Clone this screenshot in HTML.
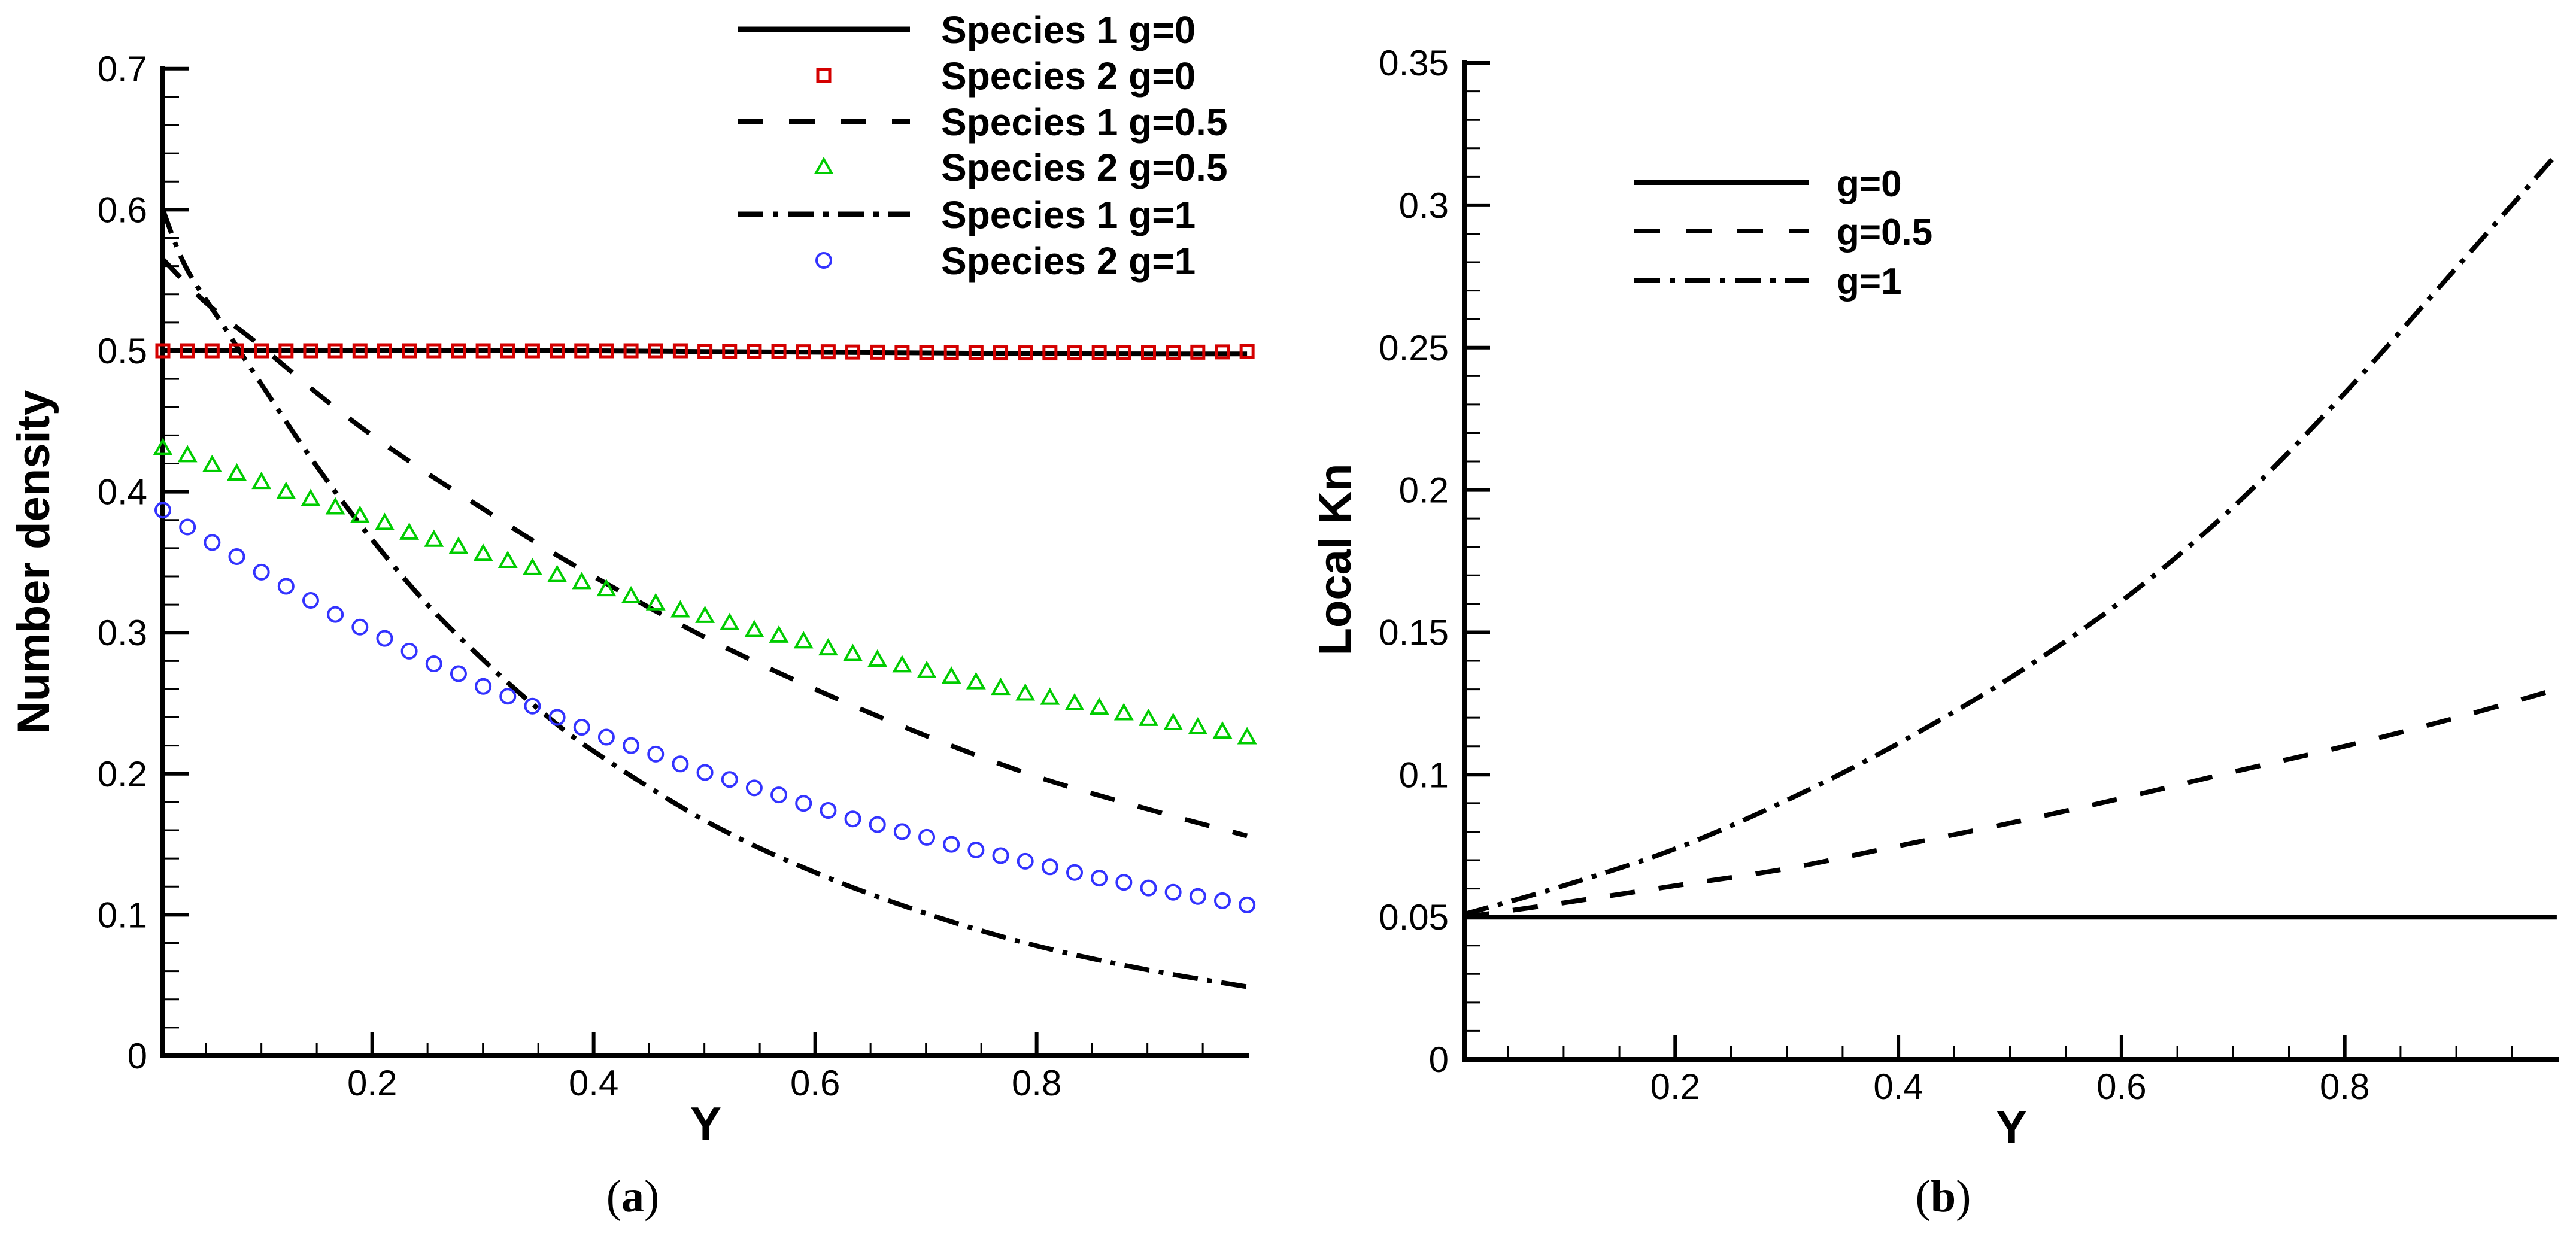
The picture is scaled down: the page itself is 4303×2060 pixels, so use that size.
<!DOCTYPE html>
<html><head><meta charset="utf-8">
<style>
html,body{margin:0;padding:0;background:#fff;}
svg{display:block;}
text{font-family:"Liberation Sans",Arial,sans-serif;}
</style></head>
<body>
<svg id="fig" width="4303" height="2060" viewBox="0 0 4303 2060" xmlns="http://www.w3.org/2000/svg">
<g id="pa"></g>
<g id="pb"></g>
</svg>
<script>
// ---------- Panel (a) data ----------
const markerX = [];  // 45 equally spaced sample positions
for (let i = 0; i < 45; i++) markerX.push(0.011 + i * (0.979 / 44));
const sp2g05 = [0.431,0.426,0.419,0.413,0.407,0.400,0.395,0.389,0.383,0.378,0.371,0.366,0.361,0.356,0.351,0.346,0.341,0.336,0.331,0.326,0.321,0.316,0.312,0.307,0.302,0.298,0.294,0.289,0.285,0.281,0.277,0.273,0.269,0.265,0.261,0.257,0.254,0.250,0.247,0.243,0.239,0.236,0.233,0.230,0.226];
const sp2g1 = [0.387,0.375,0.364,0.354,0.343,0.333,0.323,0.313,0.304,0.296,0.287,0.278,0.271,0.262,0.255,0.248,0.240,0.233,0.226,0.220,0.214,0.207,0.201,0.196,0.190,0.185,0.179,0.174,0.168,0.164,0.159,0.155,0.150,0.146,0.142,0.138,0.134,0.130,0.126,0.123,0.119,0.116,0.113,0.110,0.107];
const sp2g0 = [0.500,0.500,0.500,0.500,0.500,0.500,0.500,0.500,0.500,0.500,0.500,0.500,0.500,0.500,0.500,0.500,0.500,0.500,0.500,0.500,0.500,0.500,0.4995,0.4995,0.4995,0.4995,0.4993,0.4993,0.4991,0.499,0.4989,0.4988,0.4987,0.4986,0.4985,0.4985,0.4985,0.4985,0.4986,0.4986,0.4987,0.4988,0.499,0.4992,0.4995];
const curveAx = [0.011,0.05,0.1,0.15,0.2,0.25,0.3,0.35,0.4,0.5,0.6,0.7,0.8,0.9,0.99];
const sp1g0 = [0.500,0.500,0.500,0.500,0.500,0.500,0.500,0.500,0.500,0.4995,0.499,0.4985,0.498,0.4978,0.4978];
const sp1g05 = [0.565,0.534,0.503,0.470,0.440,0.413,0.388,0.363,0.340,0.297,0.260,0.227,0.198,0.175,0.156];
const curveBx = [0.011,0.032,0.068,0.101,0.15,0.2,0.25,0.3,0.35,0.4,0.5,0.6,0.7,0.8,0.9,0.99];
const sp1g1 = [0.600,0.559,0.515,0.475,0.418,0.366,0.320,0.281,0.246,0.216,0.167,0.130,0.101,0.078,0.061,0.049];
const yTicksA = ["0","0.1","0.2","0.3","0.4","0.5","0.6","0.7"];
const xTickLabels = ["0.2","0.4","0.6","0.8"];

// ---------- Panel (b) data ----------
const knX = [0.011,0.1,0.2,0.3,0.4,0.5,0.6,0.7,0.8,0.9,0.99];
const knG0 = [0.050,0.050,0.050,0.050,0.050,0.050,0.050,0.050,0.050,0.050,0.050];
const knG05 = [0.050,0.055,0.061,0.067,0.075,0.083,0.0917,0.101,0.110,0.120,0.130];
const knG1 = [0.051,0.061,0.074,0.091,0.111,0.134,0.161,0.194,0.234,0.278,0.318];
const yTicksB = ["0","0.05","0.1","0.15","0.2","0.25","0.3","0.35"];

const NS = "http://www.w3.org/2000/svg";
function mk(parent, tag, attrs, txt) {
  const e = document.createElementNS(NS, tag);
  for (const k in attrs) e.setAttribute(k, attrs[k]);
  if (txt !== undefined) e.textContent = txt;
  parent.appendChild(e);
  return e;
}
function axisFns(px0, pxPerUnit, xmin, py0, pyPerUnit) {
  return {
    X: v => px0 + (v - xmin) * pxPerUnit,
    Y: v => py0 - v * pyPerUnit
  };
}
function pathFrom(xs, ys, A) {
  const P = xs.map((x, i) => [A.X(x), A.Y(ys[i])]);
  let d = "M" + P[0][0].toFixed(1) + " " + P[0][1].toFixed(1);
  for (let i = 0; i < P.length - 1; i++) {
    const p0 = P[Math.max(0, i - 1)], p1 = P[i], p2 = P[i + 1], p3 = P[Math.min(P.length - 1, i + 2)];
    const c1x = p1[0] + (p2[0] - p0[0]) / 6, c1y = p1[1] + (p2[1] - p0[1]) / 6;
    const c2x = p2[0] - (p3[0] - p1[0]) / 6, c2y = p2[1] - (p3[1] - p1[1]) / 6;
    d += " C" + c1x.toFixed(1) + " " + c1y.toFixed(1) + " " + c2x.toFixed(1) + " " + c2y.toFixed(1) + " " + p2[0].toFixed(1) + " " + p2[1].toFixed(1);
  }
  return d;
}
const DASH = "42 40", DASHDOT = "42 16 8 16";

function drawAxes(g, A, opt) {
  for (let v = 0; v <= opt.ymax + 1e-9; v += opt.yMinor) {
    const vv = Math.round(v / opt.yMinor) * opt.yMinor;
    const major = Math.abs(vv / opt.yMajor - Math.round(vv / opt.yMajor)) < 1e-6;
    const t = mk(g, "line", {x1: opt.axL, x2: opt.axL + (major ? 43 : 27), y1: A.Y(vv), y2: A.Y(vv), stroke: "#000", "stroke-width": major ? 6 : 3});
    
    
  }
  opt.yLabels.forEach((s, i) => {
    const t = mk(g, "text", {x: opt.axL - 26, y: A.Y(i * opt.yMajor) + 21, "text-anchor": "end", "font-size": 60}, s);
    
    
  });
  for (let k = 1; k <= 19; k++) {
    const v = k * 0.05;
    const major = k % 4 === 0;
    const t = mk(g, "line", {x1: A.X(v), x2: A.X(v), y1: opt.axB, y2: opt.axB - (major ? 40 : 22), stroke: "#000", "stroke-width": major ? 6 : 3});
    
    
  }
  xTickLabels.forEach(s => {
    const t = mk(g, "text", {x: A.X(parseFloat(s)), y: opt.axB + 66, "text-anchor": "middle", "font-size": 60}, s);
    
    
  });
  const yl = mk(g, "line", {x1: opt.axL, x2: opt.axL, y1: opt.axT, y2: opt.axB + 4, stroke: "#000", "stroke-width": 8});
  
  
  const xl = mk(g, "line", {x1: opt.axL - 4, x2: opt.axR, y1: opt.axB, y2: opt.axB, stroke: "#000", "stroke-width": 8});
  
  
  const xt = mk(g, "text", {x: (opt.axL + opt.axR) / 2, y: opt.axB + 140, "text-anchor": "middle", "font-size": 78, "font-weight": "bold"}, "Y");
  
  
  const yt = mk(g, "text", {x: 0, y: 0, "text-anchor": "middle", "font-size": 76, "font-weight": "bold", transform: "translate(" + opt.ytX + "," + opt.ytY + ") rotate(-90)"}, opt.ytitle);
  
  
  const cap = mk(g, "text", {x: opt.capX, y: 2024, "text-anchor": "middle", "font-size": 76, style: "font-family:'Liberation Serif',serif"}, "");
  
  
  mk(cap, "tspan", {}, "(");
  mk(cap, "tspan", {"font-weight": "bold"}, opt.cap);
  mk(cap, "tspan", {}, ")");
}
function square(g, x, y) {
  return mk(g, "rect", {x: x - 10, y: y - 10, width: 20, height: 20, fill: "none", stroke: "#d40000", "stroke-width": 5});
}
function tri(g, x, y) {
  return mk(g, "polygon", {points: (x) + "," + (y - 13) + " " + (x - 13) + "," + (y + 10) + " " + (x + 13) + "," + (y + 10), fill: "none", stroke: "#00cc00", "stroke-width": 4});
}
function circ(g, x, y) {
  return mk(g, "circle", {cx: x, cy: y, r: 12, fill: "none", stroke: "#3333ff", "stroke-width": 4});
}

// ---------- Panel (a) ----------
(function () {
  const g = document.getElementById("pa");
  const A = axisFns(272, 1850, 0.011, 1764, 2356);
  drawAxes(g, A, {axL: 272, axR: 2086, axT: 110, axB: 1764, ymax: 0.7, yMajor: 0.1, yMinor: 0.02, yLabels: yTicksA,
    ytitle: "Number density", ytX: 82, ytY: 939, cap: "a", capX: 1057});
  const l0 = mk(g, "path", {d: pathFrom(curveAx, sp1g0, A), fill: "none", stroke: "#000", "stroke-width": 8});
  
  
  const l05 = mk(g, "path", {d: pathFrom(curveAx, sp1g05, A), fill: "none", stroke: "#000", "stroke-width": 8, "stroke-dasharray": DASH});
  
  
  const l1 = mk(g, "path", {d: pathFrom(curveBx, sp1g1, A), fill: "none", stroke: "#000", "stroke-width": 8, "stroke-dasharray": DASHDOT});
  
  
  markerX.forEach((x, i) => {
    const s = square(g, A.X(x), A.Y(sp2g0[i]));
    
    
    const t = tri(g, A.X(x), A.Y(sp2g05[i]));
    
    
    const c = circ(g, A.X(x), A.Y(sp2g1[i]));
    
    
  });
  const lg = mk(g, "g", {});
  
  
  const names = ["Species 1 g=0", "Species 2 g=0", "Species 1 g=0.5", "Species 2 g=0.5", "Species 1 g=1", "Species 2 g=1"];
  const rows = [49, 126, 203, 279, 358, 435];
  names.forEach((n, i) => {
    const y = rows[i];
    if (i % 2 === 0) {
      const ln = mk(lg, "line", {x1: 1232, x2: 1520, y1: y, y2: y, stroke: "#000", "stroke-width": 9});
      if (i === 2) ln.setAttribute("stroke-dasharray", "43 43");
      if (i === 4) ln.setAttribute("stroke-dasharray", "43 16 9 16");
      
      
    } else {
      const m = i === 1 ? square(lg, 1376, y) : (i === 3 ? tri(lg, 1376, y) : circ(lg, 1376, y));
      
      
    }
    const t = mk(lg, "text", {x: 1572, y: y + 23, "font-size": 64, "font-weight": "bold"}, n);
    
    
  });
})();

// ---------- Panel (b) ----------
(function () {
  const g = document.getElementById("pb");
  const B = axisFns(2446, 1864, 0.011, 1770, 4757);
  drawAxes(g, B, {axL: 2446, axR: 4274, axT: 101, axB: 1770, ymax: 0.35, yMajor: 0.05, yMinor: 0.01, yLabels: yTicksB,
    ytitle: "Local Kn", ytX: 2256, ytY: 935, cap: "b", capX: 3246});
  const a = mk(g, "path", {d: pathFrom(knX, knG0, B), fill: "none", stroke: "#000", "stroke-width": 8});
  
  
  const b = mk(g, "path", {d: pathFrom(knX, knG05, B), fill: "none", stroke: "#000", "stroke-width": 8, "stroke-dasharray": DASH});
  
  
  const c = mk(g, "path", {d: pathFrom(knX, knG1, B), fill: "none", stroke: "#000", "stroke-width": 8, "stroke-dasharray": DASHDOT});
  
  
  const lg = mk(g, "g", {});
  
  
  const names = ["g=0", "g=0.5", "g=1"];
  const rows = [305, 386, 468];
  names.forEach((n, i) => {
    const ln = mk(lg, "line", {x1: 2730, x2: 3022, y1: rows[i], y2: rows[i], stroke: "#000", "stroke-width": 8});
    if (i === 1) ln.setAttribute("stroke-dasharray", "43 43");
    if (i === 2) ln.setAttribute("stroke-dasharray", "43 16 9 16");
    
    
    const t = mk(lg, "text", {x: 3068, y: rows[i] + 23, "font-size": 62, "font-weight": "bold"}, n);
    
    
  });
})();
</script>
</body></html>
